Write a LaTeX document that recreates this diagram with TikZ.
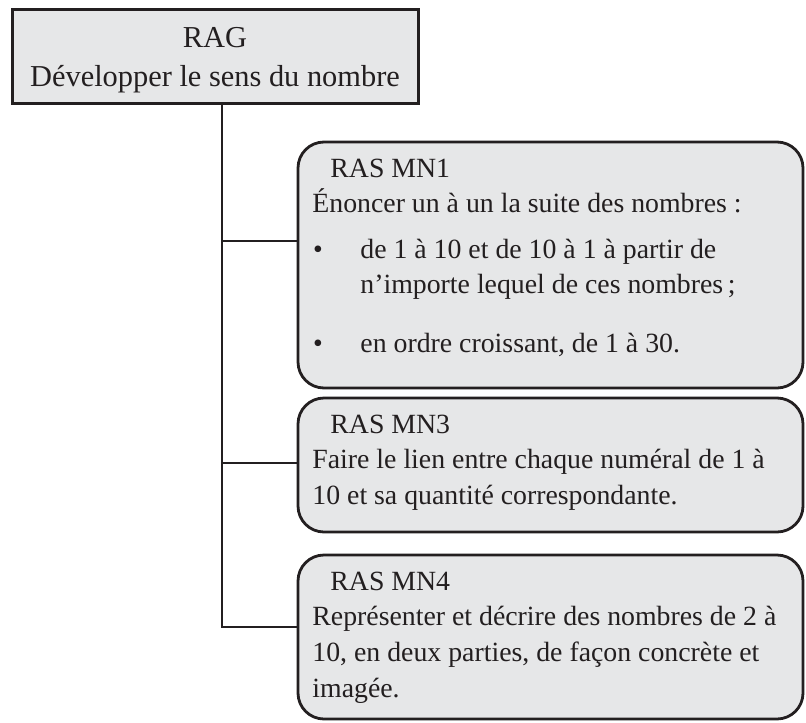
\documentclass[tikz,border=0pt]{standalone}
\usepackage{fontspec}
\setmainfont{Liberation Serif}
\usetikzlibrary{fit}
\definecolor{ink}{HTML}{231F20}
\definecolor{panel}{HTML}{E6E7E8}
\begin{document}
\begin{tikzpicture}[x=0.5pt,y=-0.5pt,
  headbox/.style={draw=ink, fill=panel, line width=1.5pt, inner sep=0pt},
  rasbox/.style={draw=ink, fill=panel, line width=1.4pt, rounded corners=13pt, inner sep=0pt},
  link/.style={draw=ink, line width=1.1pt},
  body/.style={text=ink, inner sep=0pt, anchor=base west, font=\fontsize{13.9pt}{17pt}\selectfont},
  head/.style={text=ink, inner sep=0pt, anchor=base, font=\fontsize{15.2pt}{18pt}\selectfont},
  dot/.style={text=ink, inner sep=0pt, anchor=base, font=\fontsize{13.9pt}{17pt}\selectfont}]
\useasboundingbox (0,0) rectangle (806,722);

% general outcome
\node[headbox, fit={(12,10) (418,103)}] (rag) {};
\node[head] (ragA) at (215,47) {RAG};
\node[head] (ragB) at (215,87) {Développer le sens du nombre};

% specific outcomes
\node[rasbox, fit={(298,142) (803,388)}] (mn1) {};
\node[rasbox, fit={(298,398) (803,532)}] (mn3) {};
\node[rasbox, fit={(298,555) (803,719)}] (mn4) {};

% tree connectors
\coordinate (s0) at (222,103);
\coordinate (e1) at (298,241);
\coordinate (e2) at (298,463);
\coordinate (e3) at (298,627);
\draw[link] (s0) |- (e3);
\draw[link] (s0 |- e1) -- (e1);
\draw[link] (s0 |- e2) -- (e2);

% MN1
\node[body] (t11) at (330,177) {RAS MN1};
\node[body] (t12) at (312,212) {Énoncer un à un la suite des nombres :};
\node[dot]  (d1)  at (318,258) {•};
\node[body] (t13) at (360,258) {de 1 à 10 et de 10 à 1 à partir de};
\node[body] (t14) at (360,293) {n’importe lequel de ces nombres\,;};
\node[dot]  (d2)  at (318,352) {•};
\node[body] (t15) at (360,352) {en ordre croissant, de 1 à 30.};

% MN3
\node[body] (t31) at (330,433) {RAS MN3};
\node[body] (t32) at (312,468) {Faire le lien entre chaque numéral de 1 à};
\node[body] (t33) at (312,504) {10 et sa quantité correspondante.};

% MN4
\node[body] (t41) at (330,590) {RAS MN4};
\node[body] (t42) at (312,625) {Représenter et décrire des nombres de 2 à};
\node[body] (t43) at (312,661) {10, en deux parties, de façon concrète et};
\node[body] (t44) at (312,697) {imagée.};
\end{tikzpicture}
\end{document}
